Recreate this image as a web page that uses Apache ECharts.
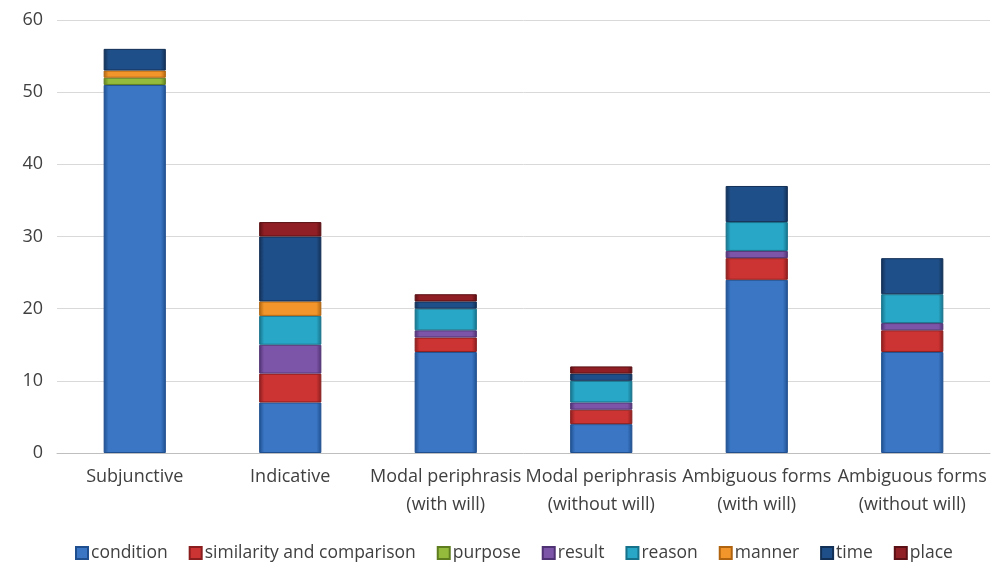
<!DOCTYPE html>
<html>
<head>
<meta charset="utf-8">
<script src="https://cdn.jsdelivr.net/npm/echarts@6/dist/echarts.min.js"></script>
<style>
  html, body { margin: 0; padding: 0; background: #fff; }
  #chart { width: 994px; height: 564px; }
</style>
</head>
<body>
<div id="chart"></div>
<script>
// categories on the x axis
const categories = [
  'Subjunctive',
  'Indicative',
  'Modal periphrasis\n(with will)',
  'Modal periphrasis\n(without will)',
  'Ambiguous forms\n(with will)',
  'Ambiguous forms\n(without will)'
]

// stacked segment values, one array per clause type
const condition = [51, 7, 14, 4, 24, 14]
const similarity = [0, 4, 2, 2, 3, 3]
const purpose = [1, 0, 0, 0, 0, 0]
const result = [0, 4, 1, 1, 1, 1]
const reason = [0, 4, 3, 3, 4, 4]
const manner = [1, 2, 0, 0, 0, 0]
const time = [3, 9, 1, 1, 5, 5]
const place = [0, 2, 1, 1, 0, 0]

const yTicks = [0, 10, 20, 30, 40, 50, 60]

const seriesDefs = [
  { name: 'condition', data: condition, color: '#3a76c4', border: '#1f4f8f' },
  { name: 'similarity and comparison', data: similarity, color: '#cc3333', border: '#8a1d1d' },
  { name: 'purpose', data: purpose, color: '#94bb3c', border: '#5e7d1f' },
  { name: 'result', data: result, color: '#7d55a8', border: '#4f3273' },
  { name: 'reason', data: reason, color: '#29a7c6', border: '#16718a' },
  { name: 'manner', data: manner, color: '#f2962b', border: '#b0640f' },
  { name: 'time', data: time, color: '#1f4f88', border: '#122f55' },
  { name: 'place', data: place, color: '#8f1f24', border: '#5a1014' }
]

const chart = echarts.init(document.getElementById('chart'))

chart.setOption({
  backgroundColor: '#ffffff',
  animation: false,
  textStyle: { fontFamily: 'Open Sans' },
  grid: {
    left: 57,
    right: 4,
    top: 20,
    bottom: 111
  },
  legend: {
    top: 539,
    left: 70,
    itemWidth: 12,
    itemHeight: 12,
    itemGap: 21,
    icon: 'rect',
    textStyle: { fontSize: 17.5, color: '#404040', fontFamily: 'Open Sans', padding: [0, 0, 0, -2] },
    data: seriesDefs.map(s => s.name)
  },
  xAxis: {
    type: 'category',
    data: categories,
    axisLine: { lineStyle: { color: '#bfbfbf' } },
    axisTick: { show: false },
    axisLabel: {
      fontSize: 18,
      color: '#404040',
      lineHeight: 28,
      margin: 10,
      interval: 0
    }
  },
  yAxis: {
    type: 'value',
    min: yTicks[0],
    max: yTicks[yTicks.length - 1],
    interval: 10,
    axisLine: { show: false },
    axisTick: { show: false },
    axisLabel: { fontSize: 18, color: '#404040', margin: 14 },
    splitLine: { lineStyle: { color: '#d9d9d9' } }
  },
  series: seriesDefs.map(s => ({
    name: s.name,
    type: 'bar',
    stack: 'total',
    barWidth: '40%',
    color: s.color,
    itemStyle: {
      color: new echarts.graphic.LinearGradient(0, 0, 1, 0, [
        { offset: 0, color: s.border },
        { offset: 0.08, color: s.color },
        { offset: 0.92, color: s.color },
        { offset: 1, color: s.border }
      ]),
      borderColor: s.border,
      borderWidth: 1
    },
    data: s.data.map(v => (v === 0 ? null : v))
  }))
})
</script>
</body>
</html>
